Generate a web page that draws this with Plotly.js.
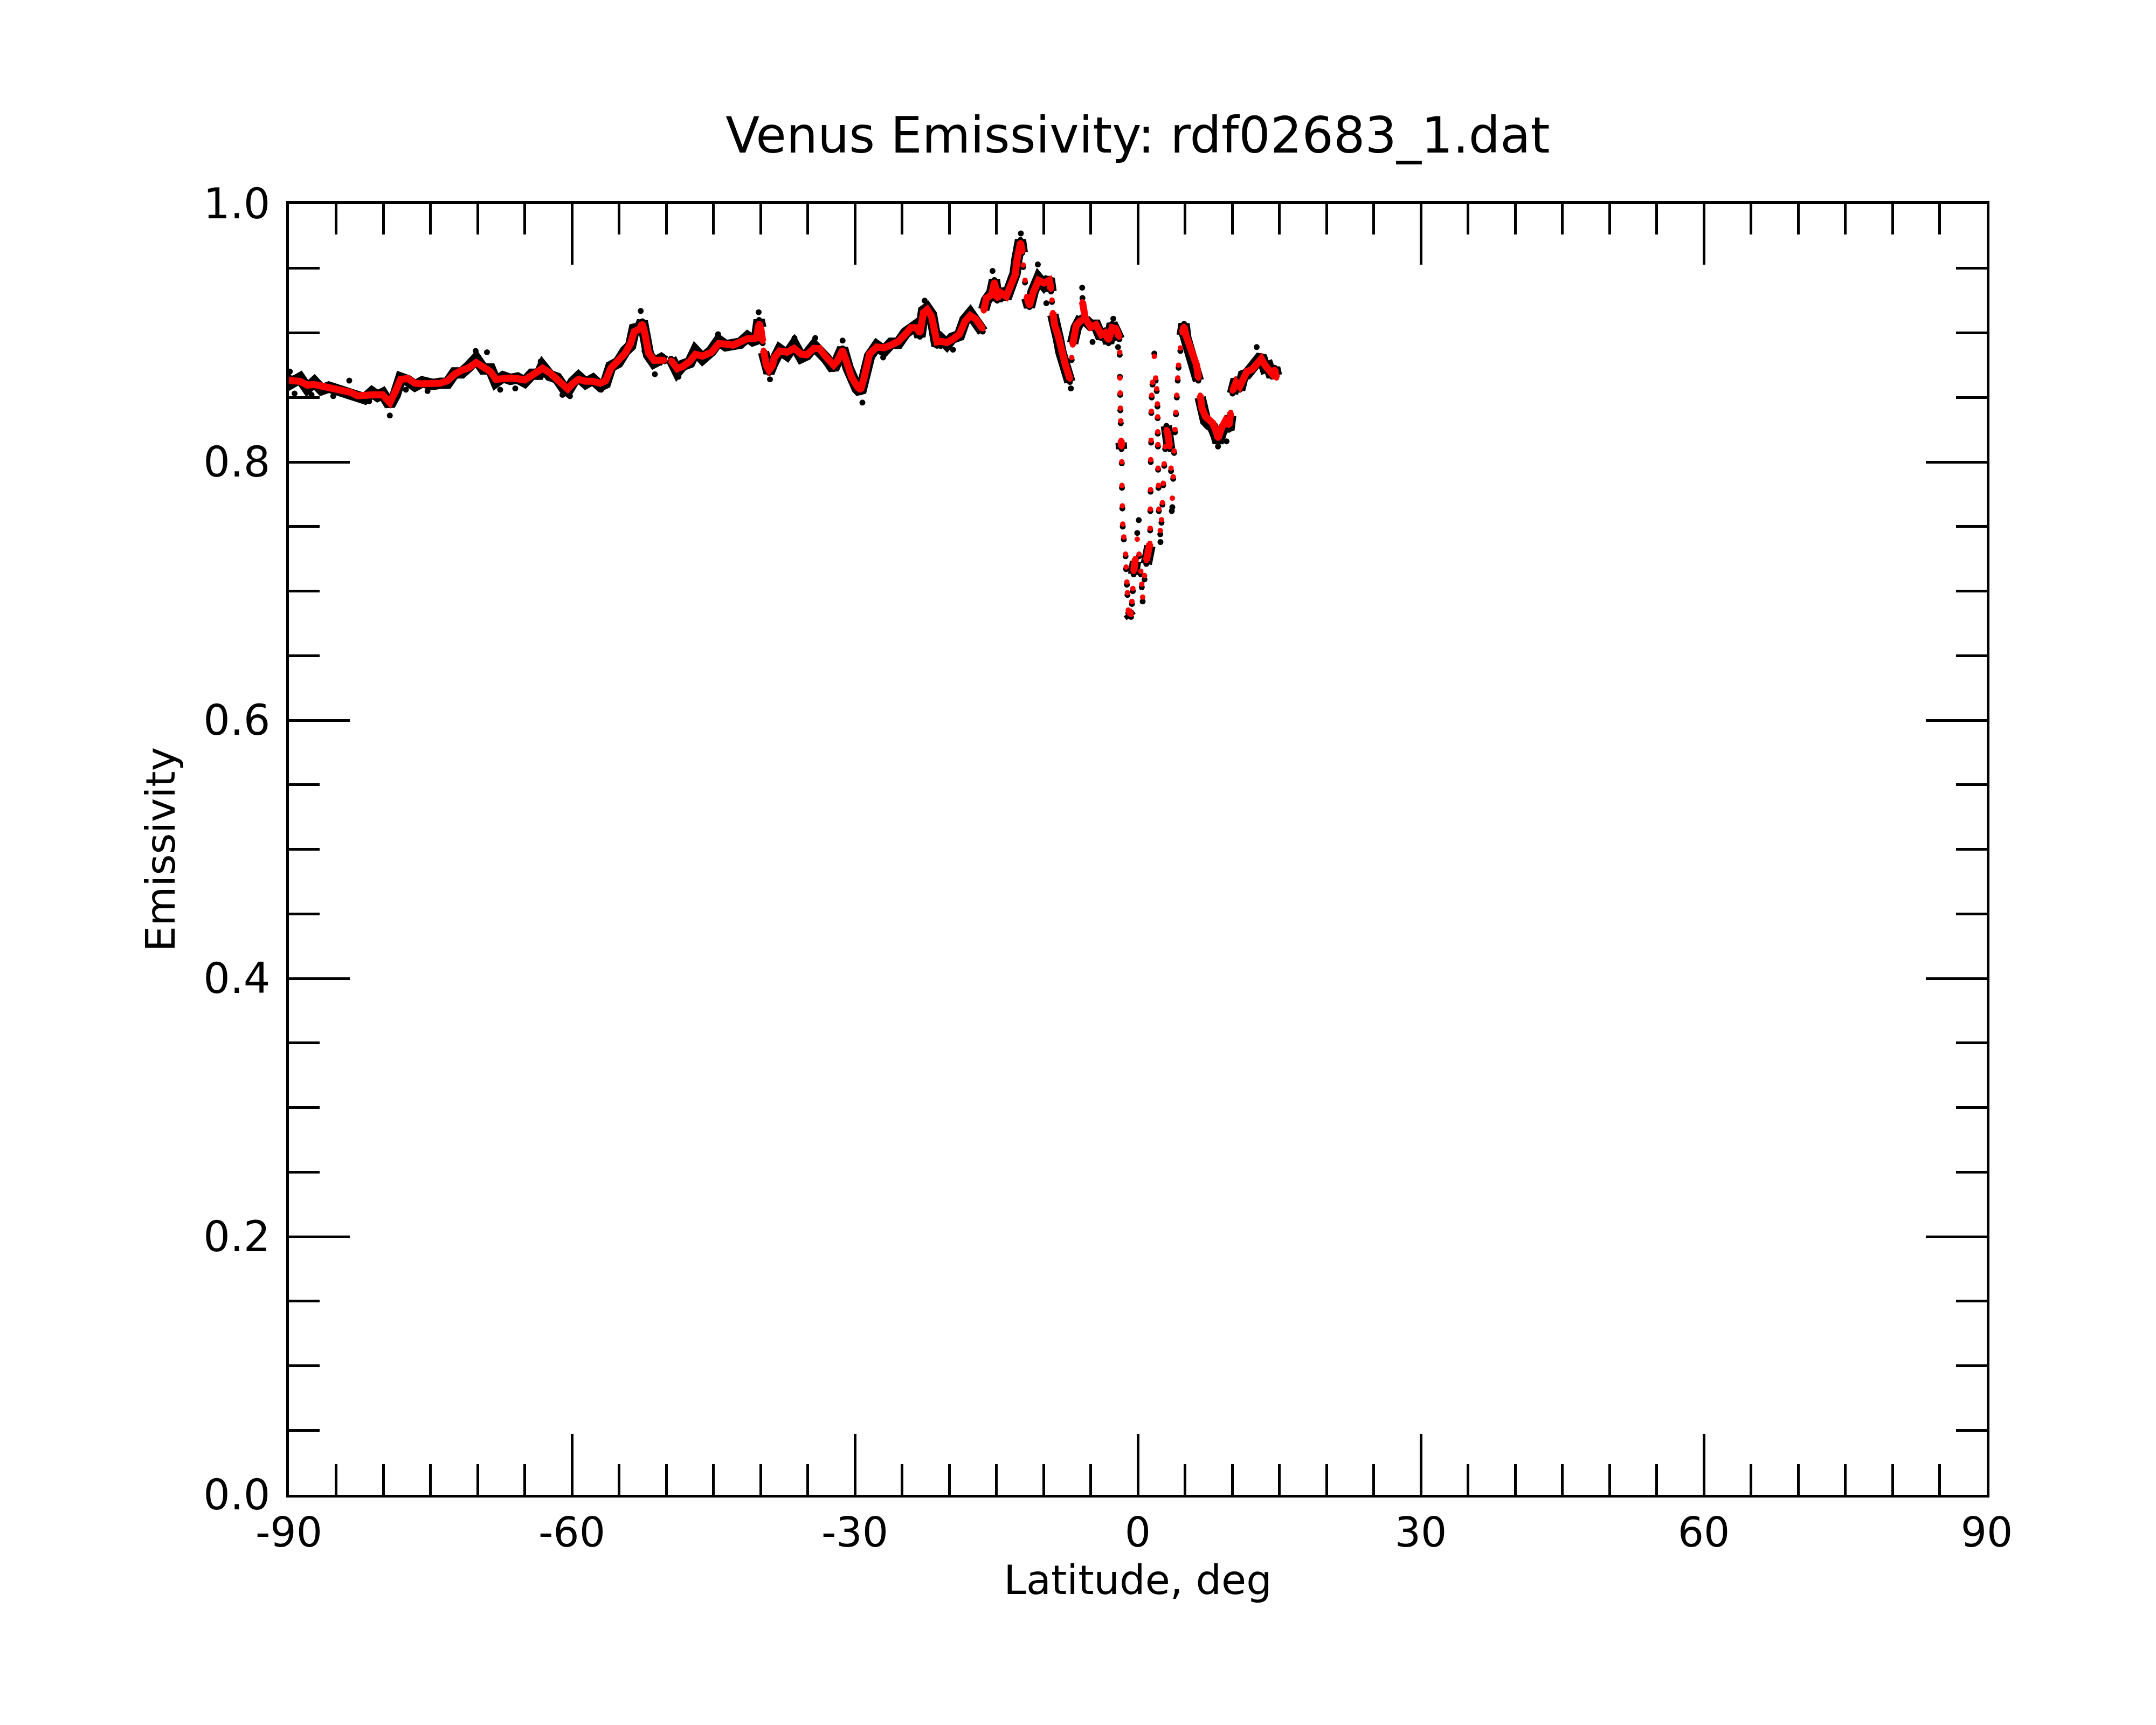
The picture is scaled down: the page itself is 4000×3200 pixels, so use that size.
<!DOCTYPE html>
<html>
<head>
<meta charset="utf-8">
<script src="https://cdn.plot.ly/plotly-3.0.1.min.js"></script>
<style>html,body{margin:0;padding:0;background:#fff;}#chart{width:4000px;height:3200px;}</style>
</head>
<body>
<div id="chart"></div>
<script>
// Latitude (deg) of each sample; null marks a gap in the track
const latitude = [
 -90.0,-89.77,-88.82,-88.06,-87.30,-86.53,-85.77,-85.01,-84.25,-83.49,-82.72,-81.96,-81.20,-80.60,-80.06,-79.70,-79.30,-78.72,-78.15,-77.39,-76.63,-75.87,-74.72,-73.96,-73.20,-72.44,-71.68,-70.92,-70.15,-69.39,-68.63,
 -68.06,-67.30,-66.53,-65.77,-65.01,-64.25,-63.49,-63.11,-62.34,-61.58,-60.82,-60.44,-59.87,-59.30,-58.53,-57.77,-57.01,-56.44,-55.87,-55.10,-54.34,-53.77,-53.39,-52.82,-52.53,-52.25,-52.06,-51.87,-51.30,-50.53,-50.15,-49.80,-49.49,-49.20,-48.82,-48.25,-47.49,-46.91,-46.15,-45.20,
 -44.44,-43.68,-42.91,-42.15,-41.39,-40.82,-40.44,-40.15,-39.96,-39.77,-39.68,-39.58,-39.39,-39.10,-38.72,-38.53,-37.96,-37.20,-36.44,-35.68,-35.10,-34.34,-33.77,-33.01,-32.25,-31.87,-31.30,-30.72,-30.34,-29.77,-29.39,-29.01,-28.82,-28.44,-27.68,-26.91,-26.15,-25.39,-24.63,-24.06,-23.49,-23.10,-22.72,-22.34,
 -21.87,-21.58,-21.30,-20.82,-20.25,-19.68,-18.91,-18.34,-17.77,-17.20,-16.72,-16.44,-16.34,-16.06,-15.49,-15.20,-14.91,-14.53,-13.96,-13.39,-13.01,-12.82,-12.63,-12.44,-12.25,-12.15,-11.96,-11.77,-11.49,-11.10,-10.53,-9.96,-9.39,-9.20,-9.10,-9.01,-8.82,-8.44,-8.15,-7.68,-7.20,-7.01,-6.91,-6.53,-5.96,-5.87,-5.58,-5.01,-4.44,-3.87,-3.49,-3.10,-2.72,-2.34,-1.96,
 -1.92,-1.90,-1.87,-1.85,-1.81,-1.77,-1.73,-1.70,-1.68,-1.64,-1.60,-1.49,-1.30,-1.24,-1.16,-1.10,-1.01,-0.72,-0.63,-0.53,-0.44,-0.25,-0.06,0.13,0.32,0.42,0.51,0.71,0.90,1.09,1.28,1.31,1.33,1.35,1.37,1.41,1.43,1.47,1.56,1.75,1.89,2.00,2.08,2.10,2.11,2.13,2.15,2.19,2.23,2.38,2.51,2.61,2.70,2.80,2.90,3.03,3.18,3.37,3.52,3.66,3.75,3.85,3.94,4.04,4.13,4.23,4.32,4.51,4.70,4.90,5.09,5.47,5.85,6.23,6.42,6.61,6.80,7.18,7.56,7.94,8.32,8.51,8.90,9.28,9.66,9.85,10.04,10.42,10.80,11.18,11.56,12.13,12.70,13.09,13.47,13.85,14.23,14.51,14.70
];
// Raw emissivity samples (black)
const emissivityRaw = [
 .866,.861,.865,.857,.862,.856,.858,.856,.856,.852,.852,.849,.854,.851,.853,.847,.844,.852,.865,.863,.859,.862,.860,.861,.861,.869,.869,.874,.880,.872,.872,
 .862,.866,.864,.865,.862,.868,.868,.874,.867,.865,.857,.855,.862,.866,.861,.864,.859,.861,.874,.877,.886,.890,.903,.904,.909,.898,.889,.883,.877,.880,.878,null,.880,.875,.870,.875,.877,.886,.880,.886,
 .894,.890,.891,.892,.897,.894,.895,.910,.904,.892,.885,.881,.874,.869,.876,.880,.887,.883,.891,.881,.883,.890,.886,.880,.872,.879,.888,.873,.864,.857,.854,.864,.874,.882,.890,.886,.892,.892,.900,.903,.906,.897,.917,.919,
 .914,.902,.890,.895,.891,.896,.898,.910,.915,.909,.904,.901,.918,.925,.931,.941,.925,.933,.927,.938,.946,.957,.965,.972,.962,.951,.939,.927,.920,.932,.942,.937,.942,.932,.924,.914,.904,.896,.885,.874,.862,.879,.892,.904,.912,.927,.910,.906,.906,.896,.902,.892,.907,.902,.895,
 .883,.866,.852,.840,.830,.815,.810,.799,.780,.764,.750,.740,.727,.717,.705,.697,.683,.680,.690,.700,.713,.723,.745,.727,.713,.703,.692,.709,.721,.730,.735,.747,.762,.777,.800,.815,.838,.850,.860,.884,.863,.855,.843,.834,.822,.812,.794,.780,.762,.744,.753,.767,.782,.797,.810,.828,.820,.810,.793,.765,.787,.807,.823,.837,.850,.863,.873,.886,.898,.907,.896,.888,.881,.873,.863,.850,.839,.832,.829,.827,.820,.815,.824,.828,.825,.836,.853,.864,.856,.867,.868,.874,.879,.882,.873,.874,.866,.873,.867
];
// Smoothed emissivity (red)
const emissivitySmooth = [
 .864,.863,.8625,.8596,.860,.8586,.857,.857,.855,.854,.8513,.851,.852,.852,.852,.849,.846,.8545,.864,.8646,.861,.8605,.861,.861,.8628,.868,.871,.873,.877,.874,.870,
 .864,.8649,.8650,.8645,.8635,.867,.8698,.8726,.869,.864,.8587,.8566,.861,.864,.8625,.8625,.8610,.8628,.8726,.878,.8844,.892,.901,.903,.907,.899,.8906,.8844,.8788,.8788,.8788,null,.8788,.8767,.8722,.874,.878,.8834,.882,.885,
 .8917,.8913,.8905,.8930,.8955,.8955,.896,.9073,.903,.8934,.8865,.882,.875,.8712,.875,.881,.886,.8850,.888,.8835,.883,.888,.8878,.881,.875,.8781,.8865,.874,.8656,.8587,.8558,.8656,.8726,.8837,.889,.8885,.8906,.8934,.899,.9040,.9040,.900,.9157,.918,
 .9128,.9031,.893,.8934,.8925,.8948,.899,.9087,.9135,.9108,.9059,.9031,.917,.9268,.9296,.9393,.9268,.931,.9282,.9365,.9449,.956,.963,.9699,.963,.9525,.9407,.9282,.9212,.931,.9407,.9386,.9407,.9338,.9254,.9157,.9059,.8976,.8865,.8753,.8642,.8809,.8906,.9059,.9101,.924,.9115,.9045,.9063,.8986,.900,.8945,.904,.9033,.8967,
 .885,.865,.8534,.8417,.8318,.8168,.8118,.8001,.7818,.766,.7519,.7419,.7286,.7186,.707,.6987,.6853,.682,.692,.702,.7153,.7253,.7402,.7286,.7153,.7053,.6953,.712,.7236,.7286,.7369,.7486,.7635,.7785,.8018,.8168,.8392,.8517,.8617,.8817,.865,.8567,.845,.835,.8234,.8135,.7952,.7818,.7635,.7469,.7552,.7685,.7835,.7985,.8118,.8251,.8218,.8118,.7952,.7719,.7885,.8085,.8251,.8384,.8517,.865,.875,.8883,.900,.905,.8983,.890,.8833,.875,.865,.8517,.8417,.835,.8318,.8301,.8234,.8184,.8268,.8318,.8284,.8384,.855,.8617,.8584,.865,.870,.8717,.8767,.880,.875,.8717,.8684,.8717,.865
];
// Isolated raw samples standing apart from the track
const outlierLat = [-89.9,-89.4,-87.6,-85.3,-83.6,-81.5,-79.3,-77.6,-75.3,-70.2,-69.0,-67.6,-66.0,-63.3,-61.0,-60.2,-56.9,-52.7,-52.3,-51.2,-48.7,-47.0,-44.5,-40.2,-39.0,-36.4,-34.2,-31.3,-29.2,-27.0,-22.6,-19.6,-17.0,-15.4,-12.4,-10.6,-9.7,-7.1,-5.9,-4.8,-2.6,-2.1,0.1,2.4,3.6,8.5,9.4,12.6];
const outlierEmis = [.870,.853,.852,.851,.863,.847,.836,.856,.855,.886,.885,.856,.857,.878,.852,.851,.856,.917,.886,.868,.866,.889,.899,.916,.864,.896,.896,.894,.846,.881,.925,.887,.906,.948,.977,.953,.923,.857,.935,.893,.911,.889,.755,.738,.762,.812,.816,.889];

const xTickVals = [-90,-60,-30,0,30,60,90];
const yTickVals = [0.0,0.2,0.4,0.6,0.8,1.0];

const W = 4000, H = 3200;
const M = {l:536, r:314, t:378, b:427};
const pxPerDeg = (W - M.l - M.r) / 180;
const pxPerUnit = (H - M.t - M.b) / 1;

// Break the connecting band only where consecutive samples jump almost vertically
function banded(xs, ys) {
  const ox = [], oy = [];
  for (let i = 0; i < xs.length; i++) {
    if (i > 0 && ys[i] != null && ys[i-1] != null) {
      const dx = Math.abs(xs[i] - xs[i-1]) * pxPerDeg;
      const dy = Math.abs(ys[i] - ys[i-1]) * pxPerUnit;
      if (dy > 14 && dy > 8 * dx) { ox.push(null); oy.push(null); }
    }
    ox.push(xs[i]); oy.push(ys[i]);
  }
  return {x: ox, y: oy};
}

const rawBand = banded(latitude, emissivityRaw);
const smoothBand = banded(latitude, emissivitySmooth);
const FONT = 'DejaVu Sans, sans-serif';

const traces = [
  {x: rawBand.x, y: rawBand.y, type: 'scatter', mode: 'lines', connectgaps: false,
   line: {color: '#000', width: 21}, hoverinfo: 'skip', showlegend: false},
  {x: latitude, y: emissivityRaw, type: 'scatter', mode: 'markers',
   marker: {color: '#000', size: 11}, showlegend: false},
  {x: outlierLat, y: outlierEmis, type: 'scatter', mode: 'markers',
   marker: {color: '#000', size: 11}, showlegend: false},
  {x: smoothBand.x, y: smoothBand.y, type: 'scatter', mode: 'lines', connectgaps: false,
   line: {color: '#ff0000', width: 13}, hoverinfo: 'skip', showlegend: false},
  {x: latitude, y: emissivitySmooth, type: 'scatter', mode: 'markers',
   marker: {color: '#ff0000', size: 10}, showlegend: false}
];

const axisCommon = {
  showline: true, linecolor: '#000', linewidth: 5, mirror: 'allticks',
  ticks: 'inside', ticklen: 113, tickwidth: 5, tickcolor: '#000',
  showgrid: false, zeroline: false,
  tickfont: {family: FONT, size: 76, color: '#000'}
};

const layout = {
  width: W, height: H,
  margin: {l: M.l, r: M.r, t: M.t, b: M.b, pad: 0},
  paper_bgcolor: '#fff', plot_bgcolor: '#fff',
  showlegend: false,
  font: {family: FONT, color: '#000'},
  title: {text: 'Venus Emissivity: rdf02683_1.dat', font: {family: FONT, size: 92, color: '#000'},
          xref: 'paper', x: 0.5, xanchor: 'center', yref: 'container', y: 1 - 251/3200, yanchor: 'middle'},
  xaxis: Object.assign({}, axisCommon, {
    range: [-90, 90], tickmode: 'array', tickvals: xTickVals, ticktext: xTickVals.map(String),
    automargin: true,
    minor: {dtick: 5, tick0: -90, ticks: 'inside', ticklen: 57, tickwidth: 5, tickcolor: '#000', showgrid: false},
    title: {text: 'Latitude, deg', font: {family: FONT, size: 75, color: '#000'}, standoff: 0}
  }),
  yaxis: Object.assign({}, axisCommon, {
    range: [0, 1], tickmode: 'array', tickvals: yTickVals, ticktext: yTickVals.map(v => v.toFixed(1)),
    tickfont: {family: FONT, size: 78, color: '#000'}, ticklabelstandoff: 14,
    minor: {dtick: 0.05, tick0: 0, ticks: 'inside', ticklen: 57, tickwidth: 5, tickcolor: '#000', showgrid: false},
    title: {text: 'Emissivity', font: {family: FONT, size: 75, color: '#000'}, standoff: 30}
  })
};

Plotly.newPlot('chart', traces, layout, {staticPlot: true, displayModeBar: false});
</script>
</body>
</html>
